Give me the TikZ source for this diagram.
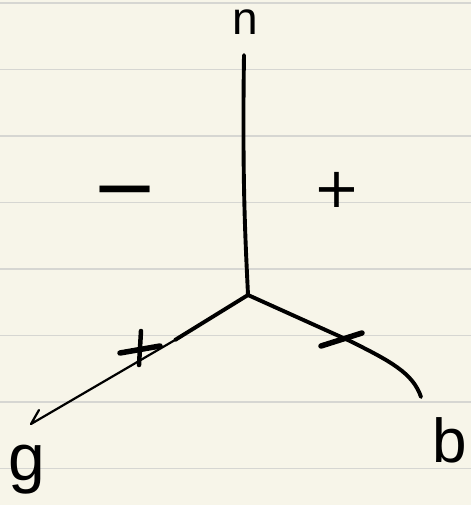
\documentclass[tikz,border=0pt]{standalone}
\usepackage{fontspec}
\setmainfont{Liberation Sans}
\newfontfamily\symfont{DejaVu Sans}
\definecolor{paper}{RGB}{247,245,233}
\definecolor{ruled}{RGB}{214,214,210}
\begin{document}
\begin{tikzpicture}[x=1pt,y=-1pt,
  ruleline/.style={draw=ruled, line width=1.5pt},
  wire/.style={line width=3.9pt, line cap=round, line join=round},
  thinwire/.style={line width=2.2pt, line cap=round, line join=round},
  tickmark/.style={line width=5.5pt, line cap=round},
  letter/.style={inner sep=0pt, outer sep=0pt},
]
\fill[paper] (0,0) rectangle (471,505);
\useasboundingbox (0,0) rectangle (471,505);
\foreach \yy in {3,69.5,136,202.5,269,335.5,402,468.5}
  \draw[ruleline] (0,\yy) -- (471,\yy);
% junction and wire end points
\coordinate (c) at (248,295);
\coordinate (ntop) at (244,55);
\coordinate (gbend) at (175,340);
\coordinate (gtip) at (31,424);
\coordinate (gwing) at (39,410);
\coordinate (bbend) at (350,341);
\coordinate (bend) at (421,397);
\draw[wire] (ntop) .. controls (242,190) and (246,250) .. (c);
\draw[wire] (c) -- (gbend);
\draw[thinwire] (gbend) -- (gtip) -- (gwing);
\draw[wire] (c) -- (bbend) .. controls (390,361) and (413,373) .. (bend);
% tick marks on the wires
\coordinate (t1a) at (120,353);
\coordinate (t1b) at (160,346);
\coordinate (t1c) at (141,331);
\coordinate (t1d) at (139,365);
\draw[tickmark] (t1a) -- (t1b);
\draw[tickmark, line width=4.5pt] (t1c) -- (t1d);
\coordinate (t2a) at (321,346);
\coordinate (t2b) at (362,333);
\draw[tickmark] (t2a) -- (t2b);
% labels
\node[letter] (n) at (245,22) {\fontsize{46}{46}\selectfont n};
\node[letter] (g) at (27,470) {\fontsize{66}{66}\selectfont g};
\node[letter] (b) at (450,440) {\fontsize{62}{62}\selectfont b};
\node[letter, anchor=base] (minus) at (125,214) {\symfont\fontsize{80}{80}\selectfont −};
\node[letter] (plus) at (337,190) {\symfont\fontsize{56}{56}\selectfont +};
\end{tikzpicture}
\end{document}
